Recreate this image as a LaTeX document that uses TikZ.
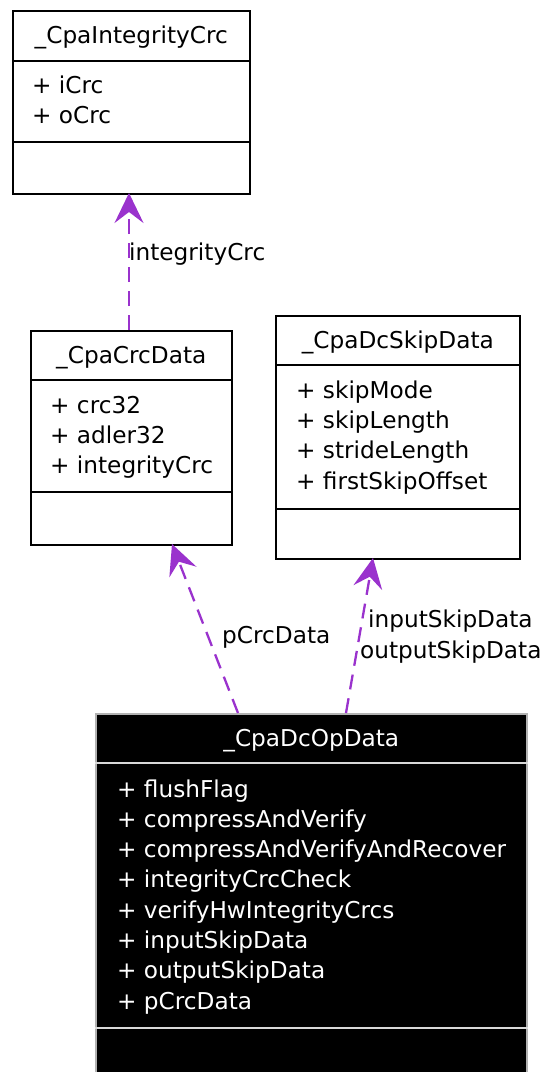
\documentclass[tikz,border=0pt]{standalone}
\usepackage{fontspec}
\setmainfont{DejaVu Sans}
\usetikzlibrary{arrows.meta,positioning,calc}
\definecolor{edgepurple}{RGB}{154,50,205}

\begin{document}
\begin{tikzpicture}[x=1pt, y=-1pt,
    % Base styles for the class boxes
    every node/.style={font=\fontsize{23.2}{30}\selectfont, inner sep=0pt},
    classbox/.style={draw, rectangle, line width=1.6pt, fill=white, anchor=north west},
    hotbox/.style={draw=gray!60, rectangle, line width=1.6pt, fill=black, anchor=north west},
    sepline/.style={line width=1.6pt},
    hotsep/.style={draw=white!85!black, line width=2.4pt},
    title/.style={anchor=base},
    attr/.style={anchor=base west},
    % dashed usage edges
    usage/.style={draw=edgepurple, line width=2.3pt, dash pattern=on 15pt off 9pt,
        -{Stealth[length=30pt, width=29pt, inset=11pt]}}
]
\clip (0,0) rectangle (541,1072);

% ==================== _CpaIntegrityCrc ====================
\node[classbox, minimum width=237pt, minimum height=183pt] (intcrc) at (12,10) {};
\draw[sepline] ($(intcrc.north west)+(0,51)$) -- ($(intcrc.north east)+(0,51)$);
\draw[sepline] ($(intcrc.north west)+(0,132)$) -- ($(intcrc.north east)+(0,132)$);
\node[title] (intcrc-t) at ($(intcrc.north)+(0,33)$) {\_CpaIntegrityCrc};
\node[attr] (intcrc-a1) at (32,93) {+ iCrc};
\node[attr] (intcrc-a2) at (32,123) {+ oCrc};
\coordinate (South1) at (129,193);

% ==================== _CpaCrcData ====================
\node[classbox, minimum width=201pt, minimum height=214pt] (crcdata) at (30,330) {};
\draw[sepline] ($(crcdata.north west)+(0,50)$) -- ($(crcdata.north east)+(0,50)$);
\draw[sepline] ($(crcdata.north west)+(0,162)$) -- ($(crcdata.north east)+(0,162)$);
\node[title] (crcdata-t) at ($(crcdata.north)+(0,33)$) {\_CpaCrcData};
\node[attr] (crcdata-a1) at (50,413) {+ crc32};
\node[attr] (crcdata-a2) at (50,443) {+ adler32};
\node[attr] (crcdata-a3) at (50,473) {+ integrityCrc};
\coordinate (North2) at (129,330);
\coordinate (South2) at (172,544);

% ==================== _CpaDcSkipData ====================
\node[classbox, minimum width=244pt, minimum height=243pt] (skipdata) at (275,315) {};
\draw[sepline] ($(skipdata.north west)+(0,50)$) -- ($(skipdata.north east)+(0,50)$);
\draw[sepline] ($(skipdata.north west)+(0,194)$) -- ($(skipdata.north east)+(0,194)$);
\node[title] (skipdata-t) at ($(skipdata.north)+(0,33)$) {\_CpaDcSkipData};
\node[attr] (skipdata-a1) at (296,398) {+ skipMode};
\node[attr] (skipdata-a2) at (296,428) {+ skipLength};
\node[attr] (skipdata-a3) at (296,458) {+ strideLength};
\node[attr] (skipdata-a4) at (296,489) {+ firstSkipOffset};
\coordinate (South3) at (373,558);

% ==================== _CpaDcOpData ====================
\node[hotbox, minimum width=431pt, minimum height=370pt] (opdata) at (95,713) {};
\draw[hotsep] ($(opdata.north west)+(0,50)$) -- ($(opdata.north east)+(0,50)$);
\draw[hotsep] ($(opdata.north west)+(0,315)$) -- ($(opdata.north east)+(0,315)$);
\node[title, text=white] (opdata-t) at ($(opdata.north)+(0,33)$) {\_CpaDcOpData};
\foreach \txt [count=\i from 0] in {flushFlag, compressAndVerify, compressAndVerifyAndRecover,
        integrityCrcCheck, verifyHwIntegrityCrcs, inputSkipData, outputSkipData, pCrcData}
    \node[attr, text=white] (opdata-a\i) at (117,797+30.3*\i) {+ \txt};
\coordinate (North4a) at (238,713);
\coordinate (North4b) at (346,713);

% ==================== CONNECTIONS ====================
\draw[usage] (North2) -- (South1);
\node[attr] (lbl-crc) at (129,260) {integrityCrc};

\draw[usage] (North4a) -- (South2);
\node[attr] (lbl-pcrc) at (222,643) {pCrcData};

\draw[usage] (North4b) -- (South3);
\node[attr] (lbl-in) at (368,627) {inputSkipData};
\node[attr] (lbl-out) at (360,658) {outputSkipData};

\end{tikzpicture}
\end{document}
